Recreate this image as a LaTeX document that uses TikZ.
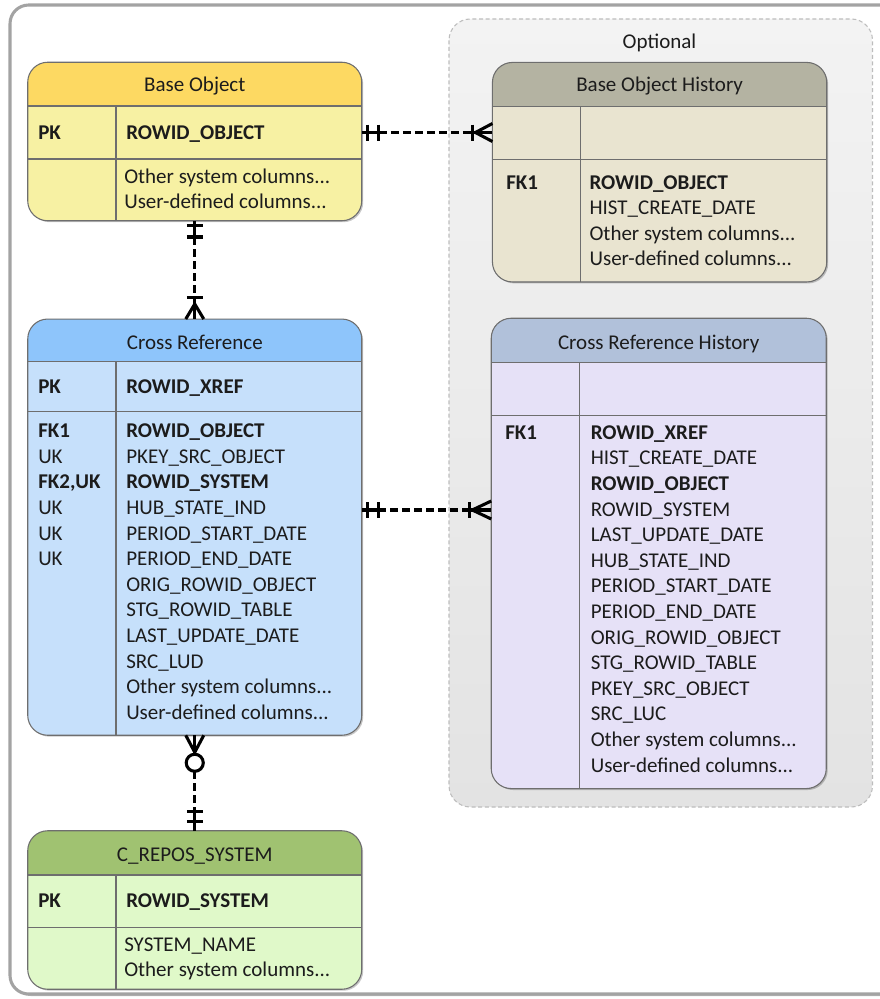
\documentclass[tikz,border=0pt]{standalone}
\usepackage{fontspec}
\setmainfont{Carlito}
\usetikzlibrary{calc,fit,shadows}
\definecolor{txt}{HTML}{1C1C1C}
\definecolor{edge}{HTML}{6E6E6E}
\definecolor{frame}{HTML}{A3A3A3}
\definecolor{grpT}{HTML}{F3F3F3}
\definecolor{grpB}{HTML}{E3E3E3}
\definecolor{grpE}{HTML}{BDBDBD}
\definecolor{boH}{HTML}{FDD962}
\definecolor{boB}{HTML}{F7F1A3}
\definecolor{bohH}{HTML}{B4B3A2}
\definecolor{bohB}{HTML}{E9E4D0}
\definecolor{crH}{HTML}{8EC5FB}
\definecolor{crB}{HTML}{C6E0FB}
\definecolor{crhH}{HTML}{B1C1DA}
\definecolor{crhB}{HTML}{E6E1F7}
\definecolor{syH}{HTML}{A0C271}
\definecolor{syB}{HTML}{E0F9C9}
\newcommand\erfont{\fontsize{15.75pt}{19.2pt}\selectfont}
\newcommand\colsdots{...}
\begin{document}
\begin{tikzpicture}[x=0.75pt,y=-0.75pt,
  every node/.style={font=\erfont, text=txt, inner sep=0pt},
  tbl/.style={inner sep=0pt, rounded corners=15pt,
    drop shadow={shadow xshift=1.3pt, shadow yshift=-1.3pt, opacity=0.22, fill=black}},
  grid/.style={draw=edge, line width=0.8pt},
  outline/.style={draw=edge, line width=0.8pt, rounded corners=15pt},
  key/.style={anchor=base west, font=\erfont\bfseries},
  col/.style={anchor=base west},
  ttl/.style={anchor=base},
  rel/.style={line width=2.3pt, black},
  dashrel/.style={rel, dash pattern=on 6pt off 3pt},
]
\useasboundingbox (0,0) rectangle (880,999);

% outer frame
\draw[draw=frame, line width=2.3pt, fill=white, rounded corners=14pt,
  drop shadow={shadow xshift=1.5pt, shadow yshift=-1.5pt, opacity=0.25, fill=black}]
  (10,5) rectangle (905,994);

% optional group
\draw[draw=grpE, line width=0.8pt, dash pattern=on 3pt off 2pt, top color=grpT, bottom color=grpB,
  rounded corners=16pt] (449,19) rectangle (872.5,807);
\node[ttl] (opt) at (659.5,48.3) {Optional};

% ---------- Base Object ----------
\node[tbl, fill=boB, fit={(28,62.5) (361.5,220.5)}] (bo) {};
\begin{scope}
  \clip (28,62.5) rectangle (361.5,106);
  \fill[boH, rounded corners=15pt] (bo.north west) rectangle (bo.south east);
\end{scope}
\draw[grid] (28,106) -- (361.5,106) (28,159) -- (361.5,159) (116,106) -- (116,220.5);
\draw[outline] (bo.north west) rectangle (bo.south east);
\node[ttl] (boT) at (194.8,92) {Base Object};
\node[key] (boK) at (38,139.5) {PK};
\node[key] (boP) at (126,139.5) {ROWID\_OBJECT};
\node[col] (bo1) at (124,183) {Other system columns\colsdots};
\node[col] (bo2) at (124,208.4) {User-defined columns\colsdots};

% ---------- Base Object History ----------
\node[tbl, fill=bohB, fit={(492.7,62.7) (826.5,281.7)}] (boh) {};
\begin{scope}
  \clip (492.7,62.7) rectangle (826.5,106.7);
  \fill[bohH, rounded corners=15pt] (boh.north west) rectangle (boh.south east);
\end{scope}
\draw[grid] (492.7,106.7) -- (826.5,106.7) (492.7,159.3) -- (826.5,159.3) (580.3,106.7) -- (580.3,281.7);
\draw[outline] (boh.north west) rectangle (boh.south east);
\node[ttl] (bohT) at (659.6,92) {Base Object History};
\node[key] (bohK) at (506,189) {FK1};
\foreach \t [count=\i from 0] in {\textbf{ROWID\_OBJECT},HIST\_CREATE\_DATE,Other system columns\colsdots,User-defined columns\colsdots}
  \node[col] (bohc\i) at (589.3,{189+25.6*\i}) {\t};

% ---------- Cross Reference ----------
\node[tbl, fill=crB, fit={(28,319.3) (361.5,735)}] (cr) {};
\begin{scope}
  \clip (28,319.3) rectangle (361.5,361.7);
  \fill[crH, rounded corners=15pt] (cr.north west) rectangle (cr.south east);
\end{scope}
\draw[grid] (28,361.7) -- (361.5,361.7) (28,411.7) -- (361.5,411.7) (116,361.7) -- (116,735);
\draw[outline] (cr.north west) rectangle (cr.south east);
\node[ttl] (crT) at (194.8,349.3) {Cross Reference};
\node[key] (crK) at (38,393.3) {PK};
\node[key] (crP) at (126,393.3) {ROWID\_XREF};
\foreach \t [count=\i from 0] in {\textbf{FK1},UK,\textbf{FK2,UK},UK,UK,UK}
  \node[col] (crk\i) at (38,{437.7+25.6*\i}) {\t};
\foreach \t [count=\i from 0] in {\textbf{ROWID\_OBJECT},PKEY\_SRC\_OBJECT,\textbf{ROWID\_SYSTEM},HUB\_STATE\_IND,PERIOD\_START\_DATE,PERIOD\_END\_DATE,ORIG\_ROWID\_OBJECT,STG\_ROWID\_TABLE,LAST\_UPDATE\_DATE,SRC\_LUD,Other system columns\colsdots,User-defined columns\colsdots}
  \node[col] (crc\i) at (126,{437.7+25.6*\i}) {\t};

% ---------- Cross Reference History ----------
\node[tbl, fill=crhB, fit={(491.5,318.5) (826,788.3)}] (crh) {};
\begin{scope}
  \clip (491.5,318.5) rectangle (826,362.3);
  \fill[crhH, rounded corners=15pt] (crh.north west) rectangle (crh.south east);
\end{scope}
\draw[grid] (491.5,362.3) -- (826,362.3) (491.5,415.7) -- (826,415.7) (579.3,362.3) -- (579.3,788.3);
\draw[outline] (crh.north west) rectangle (crh.south east);
\node[ttl] (crhT) at (658.7,349) {Cross Reference History};
\node[key] (crhK) at (505,439.3) {FK1};
\foreach \t [count=\i from 0] in {\textbf{ROWID\_XREF},HIST\_CREATE\_DATE,\textbf{ROWID\_OBJECT},ROWID\_SYSTEM,LAST\_UPDATE\_DATE,HUB\_STATE\_IND,PERIOD\_START\_DATE,PERIOD\_END\_DATE,ORIG\_ROWID\_OBJECT,STG\_ROWID\_TABLE,PKEY\_SRC\_OBJECT,SRC\_LUC,Other system columns\colsdots,User-defined columns\colsdots}
  \node[col] (crhc\i) at (590.5,{439.3+25.6*\i}) {\t};

% ---------- C_REPOS_SYSTEM ----------
\node[tbl, fill=syB, fit={(28,831) (361.5,989)}] (sys) {};
\begin{scope}
  \clip (28,831) rectangle (361.5,875);
  \fill[syH, rounded corners=15pt] (sys.north west) rectangle (sys.south east);
\end{scope}
\draw[grid] (28,875) -- (361.5,875) (28,927.7) -- (361.5,927.7) (116,875) -- (116,989);
\draw[outline] (sys.north west) rectangle (sys.south east);
\node[ttl] (sysT) at (194.8,861) {C\_REPOS\_SYSTEM};
\node[key] (sysK) at (38,907.3) {PK};
\node[key] (sysP) at (126,907.3) {ROWID\_SYSTEM};
\node[col] (sys1) at (124,951.7) {SYSTEM\_NAME};
\node[col] (sys2) at (124,976.5) {Other system columns\colsdots};

% ---------- Relationships ----------
% Base Object -> Base Object History
\coordinate (r1) at (0,132.5);
\coordinate (a1) at (bo.east |- r1);
\coordinate (b1) at (boh.west |- r1);
\draw[rel] (a1) -- ($(a1)+(17,0)$);
\draw[rel] ($(a1)+(5.5,-8)$) -- ++(0,16);
\draw[rel] ($(a1)+(17,-8)$) -- ++(0,16);
\draw[dashrel] ($(a1)+(17,0)$) -- ($(b1)+(-20,0)$);
\draw[rel] ($(b1)+(-20,0)$) -- (b1);
\draw[rel] ($(b1)+(-20,-8)$) -- ++(0,16);
\draw[rel] ($(b1)+(0,-9)$) -- ($(b1)+(-17,0)$) -- ($(b1)+(0,9)$);

% Base Object -> Cross Reference
\coordinate (a2) at (bo.south);
\coordinate (b2) at (cr.north);
\draw[rel] (a2) -- ($(a2)+(0,16.5)$);
\draw[rel] ($(a2)+(-8,4.8)$) -- ++(16,0);
\draw[rel] ($(a2)+(-8,16.2)$) -- ++(16,0);
\draw[dashrel] ($(a2)+(0,16.5)$) -- ($(b2)+(0,-22)$);
\draw[rel] ($(b2)+(0,-22)$) -- (b2);
\draw[rel] ($(b2)+(-8,-22)$) -- ++(16,0);
\draw[rel] ($(b2)+(-9,0)$) -- ($(b2)+(0,-15)$) -- ($(b2)+(9,0)$);

% Cross Reference -> Cross Reference History
\coordinate (r3) at (0,510);
\coordinate (a3) at (cr.east |- r3);
\coordinate (b3) at (crh.west |- r3);
\draw[rel] (a3) -- ($(a3)+(16.5,0)$);
\draw[rel] ($(a3)+(6,-8)$) -- ++(0,16);
\draw[rel] ($(a3)+(16.5,-8)$) -- ++(0,16);
\draw[dashrel] ($(a3)+(16.5,0)$) -- ($(b3)+(-22,0)$);
\draw[rel] ($(b3)+(-22,0)$) -- (b3);
\draw[rel] ($(b3)+(-22,-8)$) -- ++(0,16);
\draw[rel] ($(b3)+(0,-9)$) -- ($(b3)+(-19,0)$) -- ($(b3)+(0,9)$);

% Cross Reference -> C_REPOS_SYSTEM
\coordinate (a4) at (cr.south);
\coordinate (b4) at (sys.north);
\draw[rel] (a4) -- ($(a4)+(0,19)$);
\draw[rel] ($(a4)+(-9,0)$) -- ($(a4)+(0,17)$) -- ($(a4)+(9,0)$);
\draw[rel] ($(a4)+(0,27.5)$) circle[radius=6.4pt];
\draw[dashrel] ($(a4)+(0,36)$) -- ($(b4)+(0,-19.5)$);
\draw[rel] ($(b4)+(0,-19.5)$) -- (b4);
\draw[rel] ($(b4)+(-8,-19.5)$) -- ++(16,0);
\draw[rel] ($(b4)+(-8,-9)$) -- ++(16,0);
\end{tikzpicture}
\end{document}
